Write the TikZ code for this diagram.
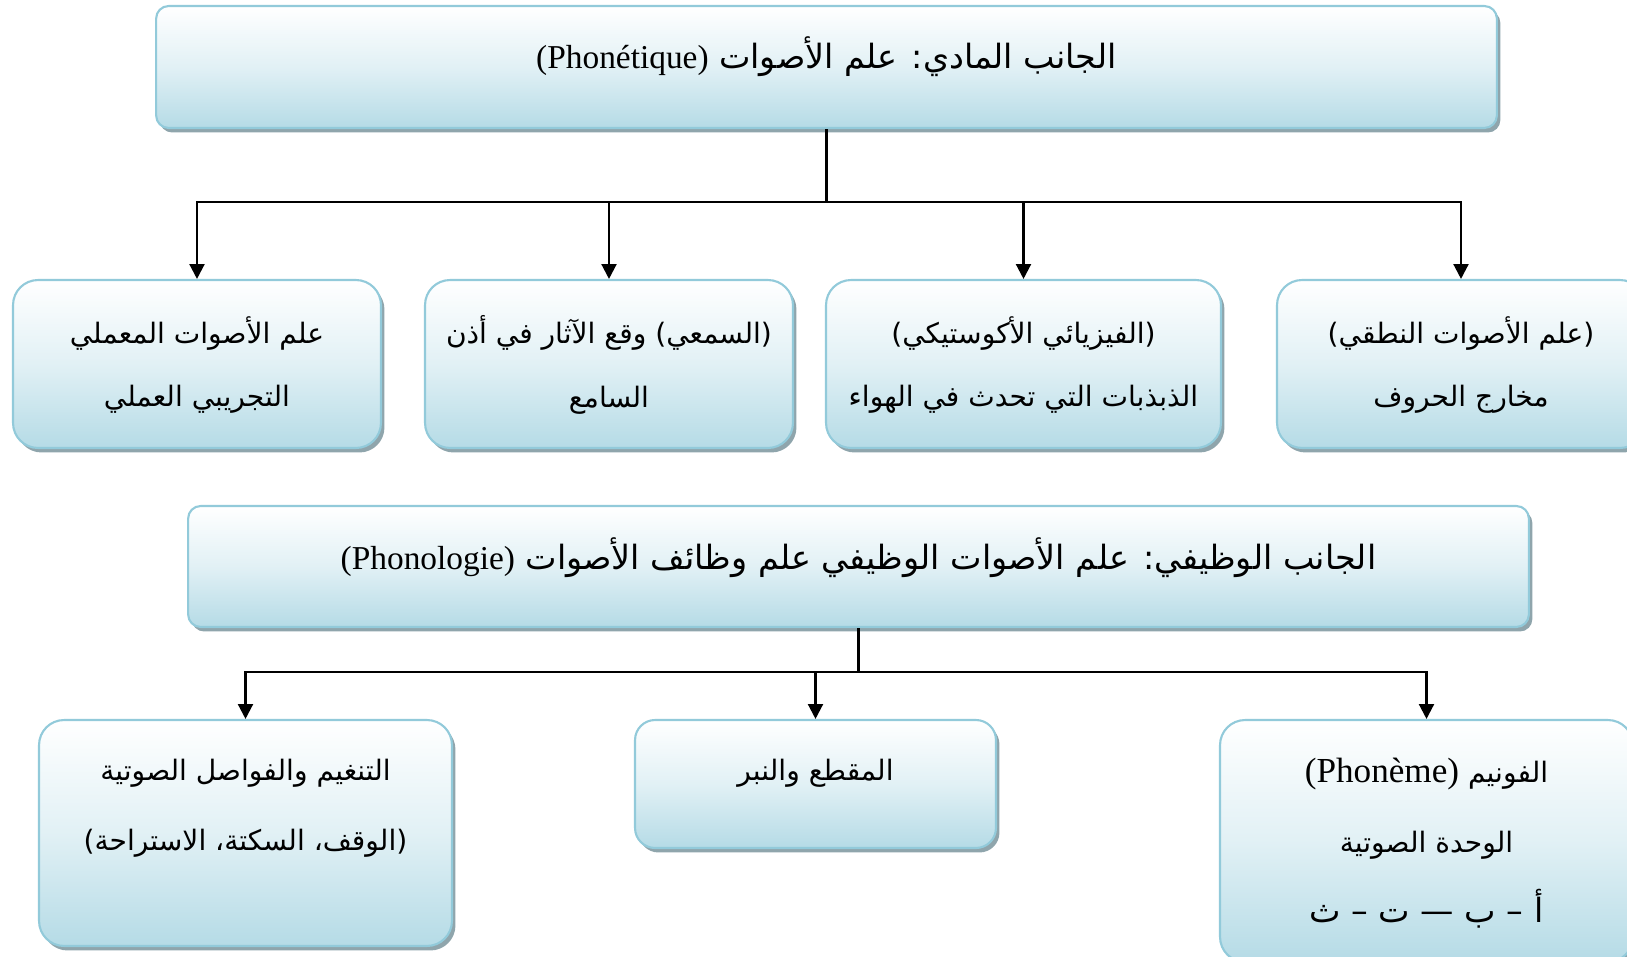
\documentclass[tikz,border=0pt]{standalone}
\usepackage{fontspec}
\usepackage{tikz}
\usetikzlibrary{arrows.meta, shadows}
\setmainfont{Liberation Serif}
\newfontfamily\arabicfont[Script=Arabic]{DejaVu Sans}
\newfontfamily\latinfont{Liberation Serif}
\TeXXeTstate=1
\definecolor{boxline}{HTML}{92CADA}
\definecolor{boxfill}{HTML}{B5DBE6}
\definecolor{boxshadow}{HTML}{8FA5AC}
\newcommand{\artxt}[1]{\beginR #1\endR}
\newcommand{\lat}[1]{\beginL{\latinfont #1}\endL}

\begin{document}
\begin{tikzpicture}[x=0.02cm, y=-0.02cm, line width=1.3pt,
    box/.style={draw=boxline, line width=1.2pt, rounded corners=0.5cm, inner sep=0pt,
        top color=white, bottom color=boxfill, middle color=boxfill!40,
        drop shadow={shadow xshift=0.07cm, shadow yshift=-0.09cm, fill=boxshadow, opacity=1}},
    titlebox/.style={box, rounded corners=0.25cm},
    txt/.style={font=\fontsize{16}{36}\selectfont\arabicfont, align=center, inner sep=0pt},
    txtb/.style={txt, font=\fontsize{16}{40}\selectfont\arabicfont},
    title/.style={txt, font=\fontsize{19}{36}\selectfont\arabicfont},
    arr/.style={-{Triangle[width=8.5pt,length=8.5pt]}}]
    \clip (0,0) rectangle (1627,957);
    % الجانب المادي
    \node[titlebox, minimum width=26.82cm, minimum height=2.44cm] (top1) at (826.5,67) {};
    \node[title] (top1t) at (826.5,57) {\artxt{الجانب المادي: علم الأصوات \lat{(Phonétique)}}};
    \node[box, minimum width=7.36cm, minimum height=3.36cm] (r1a) at (197,364) {};
    \node[box, minimum width=7.36cm, minimum height=3.36cm] (r1b) at (609,364) {};
    \node[box, minimum width=7.9cm, minimum height=3.36cm] (r1c) at (1023.5,364) {};
    \node[box, minimum width=7.36cm, minimum height=3.36cm] (r1d) at (1461,364) {};
    \node[txt] (r1at) at (197,365) {\artxt{علم الأصوات المعملي}\\\artxt{التجريبي العملي}};
    \node[txt] (r1bt) at (609,365) {\artxt{(السمعي) وقع الآثار في أذن}\\\artxt{السامع}};
    \node[txt] (r1ct) at (1023.5,365) {\artxt{(الفيزيائي الأكوستيكي)}\\\artxt{الذبذبات التي تحدث في الهواء}};
    \node[txt] (r1dt) at (1461,365) {\artxt{(علم الأصوات النطقي)}\\\artxt{مخارج الحروف}};
    \coordinate (bus1) at (826.5,202);
    \draw (top1.south) -- (bus1);
    \foreach \n in {r1a,r1b,r1c,r1d}
        \draw[arr] (bus1) -| (\n.north);
    % الجانب الوظيفي
    \node[titlebox, minimum width=26.82cm, minimum height=2.42cm] (top2) at (858.5,566.5) {};
    \node[title] (top2t) at (858.5,558) {\artxt{الجانب الوظيفي: علم الأصوات الوظيفي علم وظائف الأصوات \lat{(Phonologie)}}};
    \node[box, minimum width=8.26cm, minimum height=4.52cm] (r2a) at (245.5,833) {};
    \node[box, rounded corners=0.4cm, minimum width=7.22cm, minimum height=2.56cm] (r2b) at (815.5,784) {};
    \node[box, minimum width=8.26cm, minimum height=4.84cm] (r2c) at (1426.5,841) {};
    \node[txtb] (r2at) at (245.5,808) {\artxt{التنغيم والفواصل الصوتية}\\\artxt{(الوقف، السكتة، الاستراحة)}};
    \node[txtb] (r2bt) at (815.5,773) {\artxt{المقطع والنبر}};
    \node[txtb] (r2ct) at (1426.5,843) {\artxt{الفونيم {\fontsize{20}{40}\selectfont\lat{(Phonème)}}}\\\artxt{الوحدة الصوتية}\\{\fontsize{19}{40}\selectfont\artxt{أ – ب — ت – ث}}};
    \coordinate (bus2) at (858.5,672);
    \draw (top2.south) -- (bus2);
    \foreach \n in {r2a,r2b,r2c}
        \draw[arr] (bus2) -| (\n.north);
\end{tikzpicture}
\end{document}
